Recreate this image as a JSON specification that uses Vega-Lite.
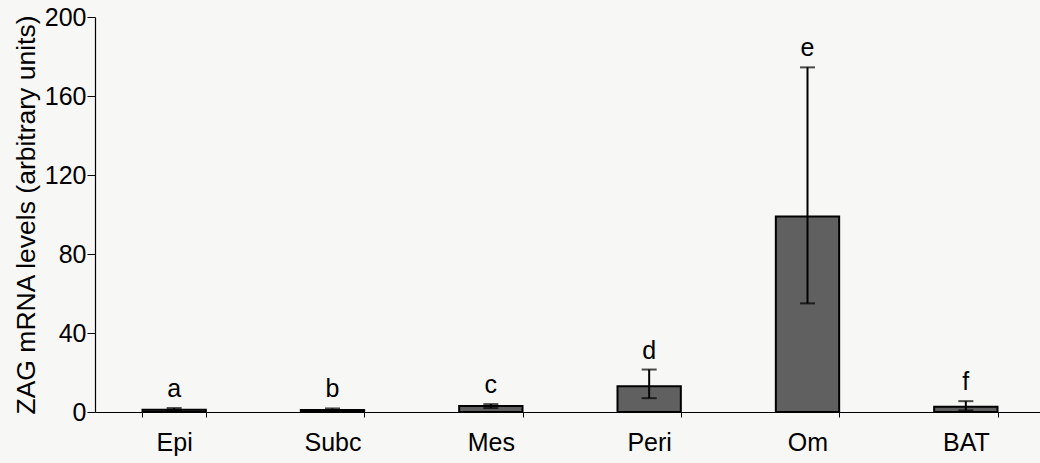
{
  "$schema": "https://vega.github.io/schema/vega-lite/v6.json",
  "autosize": {"type": "none"},
  "width": 950,
  "height": 395,
  "padding": {"left": 95, "top": 17, "right": 0, "bottom": 51},
  "background": "#f7f7f5",
  "config": {
    "view": {"stroke": null},
    "font": "Liberation Sans",
    "axis": {"labelFont": "Liberation Sans", "titleFont": "Liberation Sans", "labelColor": "black", "titleColor": "black", "domainColor": "black", "tickColor": "black", "grid": false}
  },
  "data": {
    "values": [
      {"tissue": "Epi", "mean": 1.2, "lower": 0.6, "upper": 2.0, "letter": "a"},
      {"tissue": "Subc", "mean": 1.0, "lower": 0.5, "upper": 1.8, "letter": "b"},
      {"tissue": "Mes", "mean": 3.0, "lower": 2.0, "upper": 4.0, "letter": "c"},
      {"tissue": "Peri", "mean": 13.0, "lower": 7.0, "upper": 21.5, "letter": "d"},
      {"tissue": "Om", "mean": 99.0, "lower": 55.0, "upper": 174.5, "letter": "e"},
      {"tissue": "BAT", "mean": 2.7, "lower": 0.8, "upper": 5.5, "letter": "f"}
    ]
  },
  "encoding": {
    "x": {
      "field": "tissue", "type": "nominal", "sort": null,
      "scale": {"paddingInner": 0.6, "paddingOuter": 0.3},
      "axis": {"title": null, "labelAngle": 0, "labelFontSize": 25, "labelPadding": 13, "tickBand": "extent", "tickSize": 5, "domainWidth": 1.2}
    }
  },
  "layer": [
    {
      "mark": {"type": "bar", "color": "#606060", "stroke": "black", "strokeWidth": 2},
      "encoding": {
        "y": {
          "field": "mean", "type": "quantitative",
          "scale": {"domain": [0, 200]},
          "axis": {"title": "ZAG mRNA levels (arbitrary units)", "titleFontSize": 26.5, "titleFontWeight": "normal", "titlePadding": 4, "labelFontSize": 25, "values": [0, 40, 80, 120, 160, 200], "tickSize": 8, "labelPadding": 1, "domainWidth": 1.2}
        }
      }
    },
    {
      "mark": {"type": "rule", "color": "black", "strokeWidth": 2},
      "encoding": {
        "y": {"field": "lower", "type": "quantitative"},
        "y2": {"field": "upper"}
      }
    },
    {
      "mark": {"type": "tick", "color": "black", "thickness": 2, "size": 15},
      "encoding": {"y": {"field": "upper", "type": "quantitative"}}
    },
    {
      "mark": {"type": "tick", "color": "black", "thickness": 2, "size": 15},
      "encoding": {"y": {"field": "lower", "type": "quantitative"}}
    },
    {
      "mark": {"type": "text", "fontSize": 25, "baseline": "alphabetic", "dy": -11, "color": "black"},
      "encoding": {
        "y": {"field": "upper", "type": "quantitative"},
        "text": {"field": "letter"}
      }
    }
  ]
}
